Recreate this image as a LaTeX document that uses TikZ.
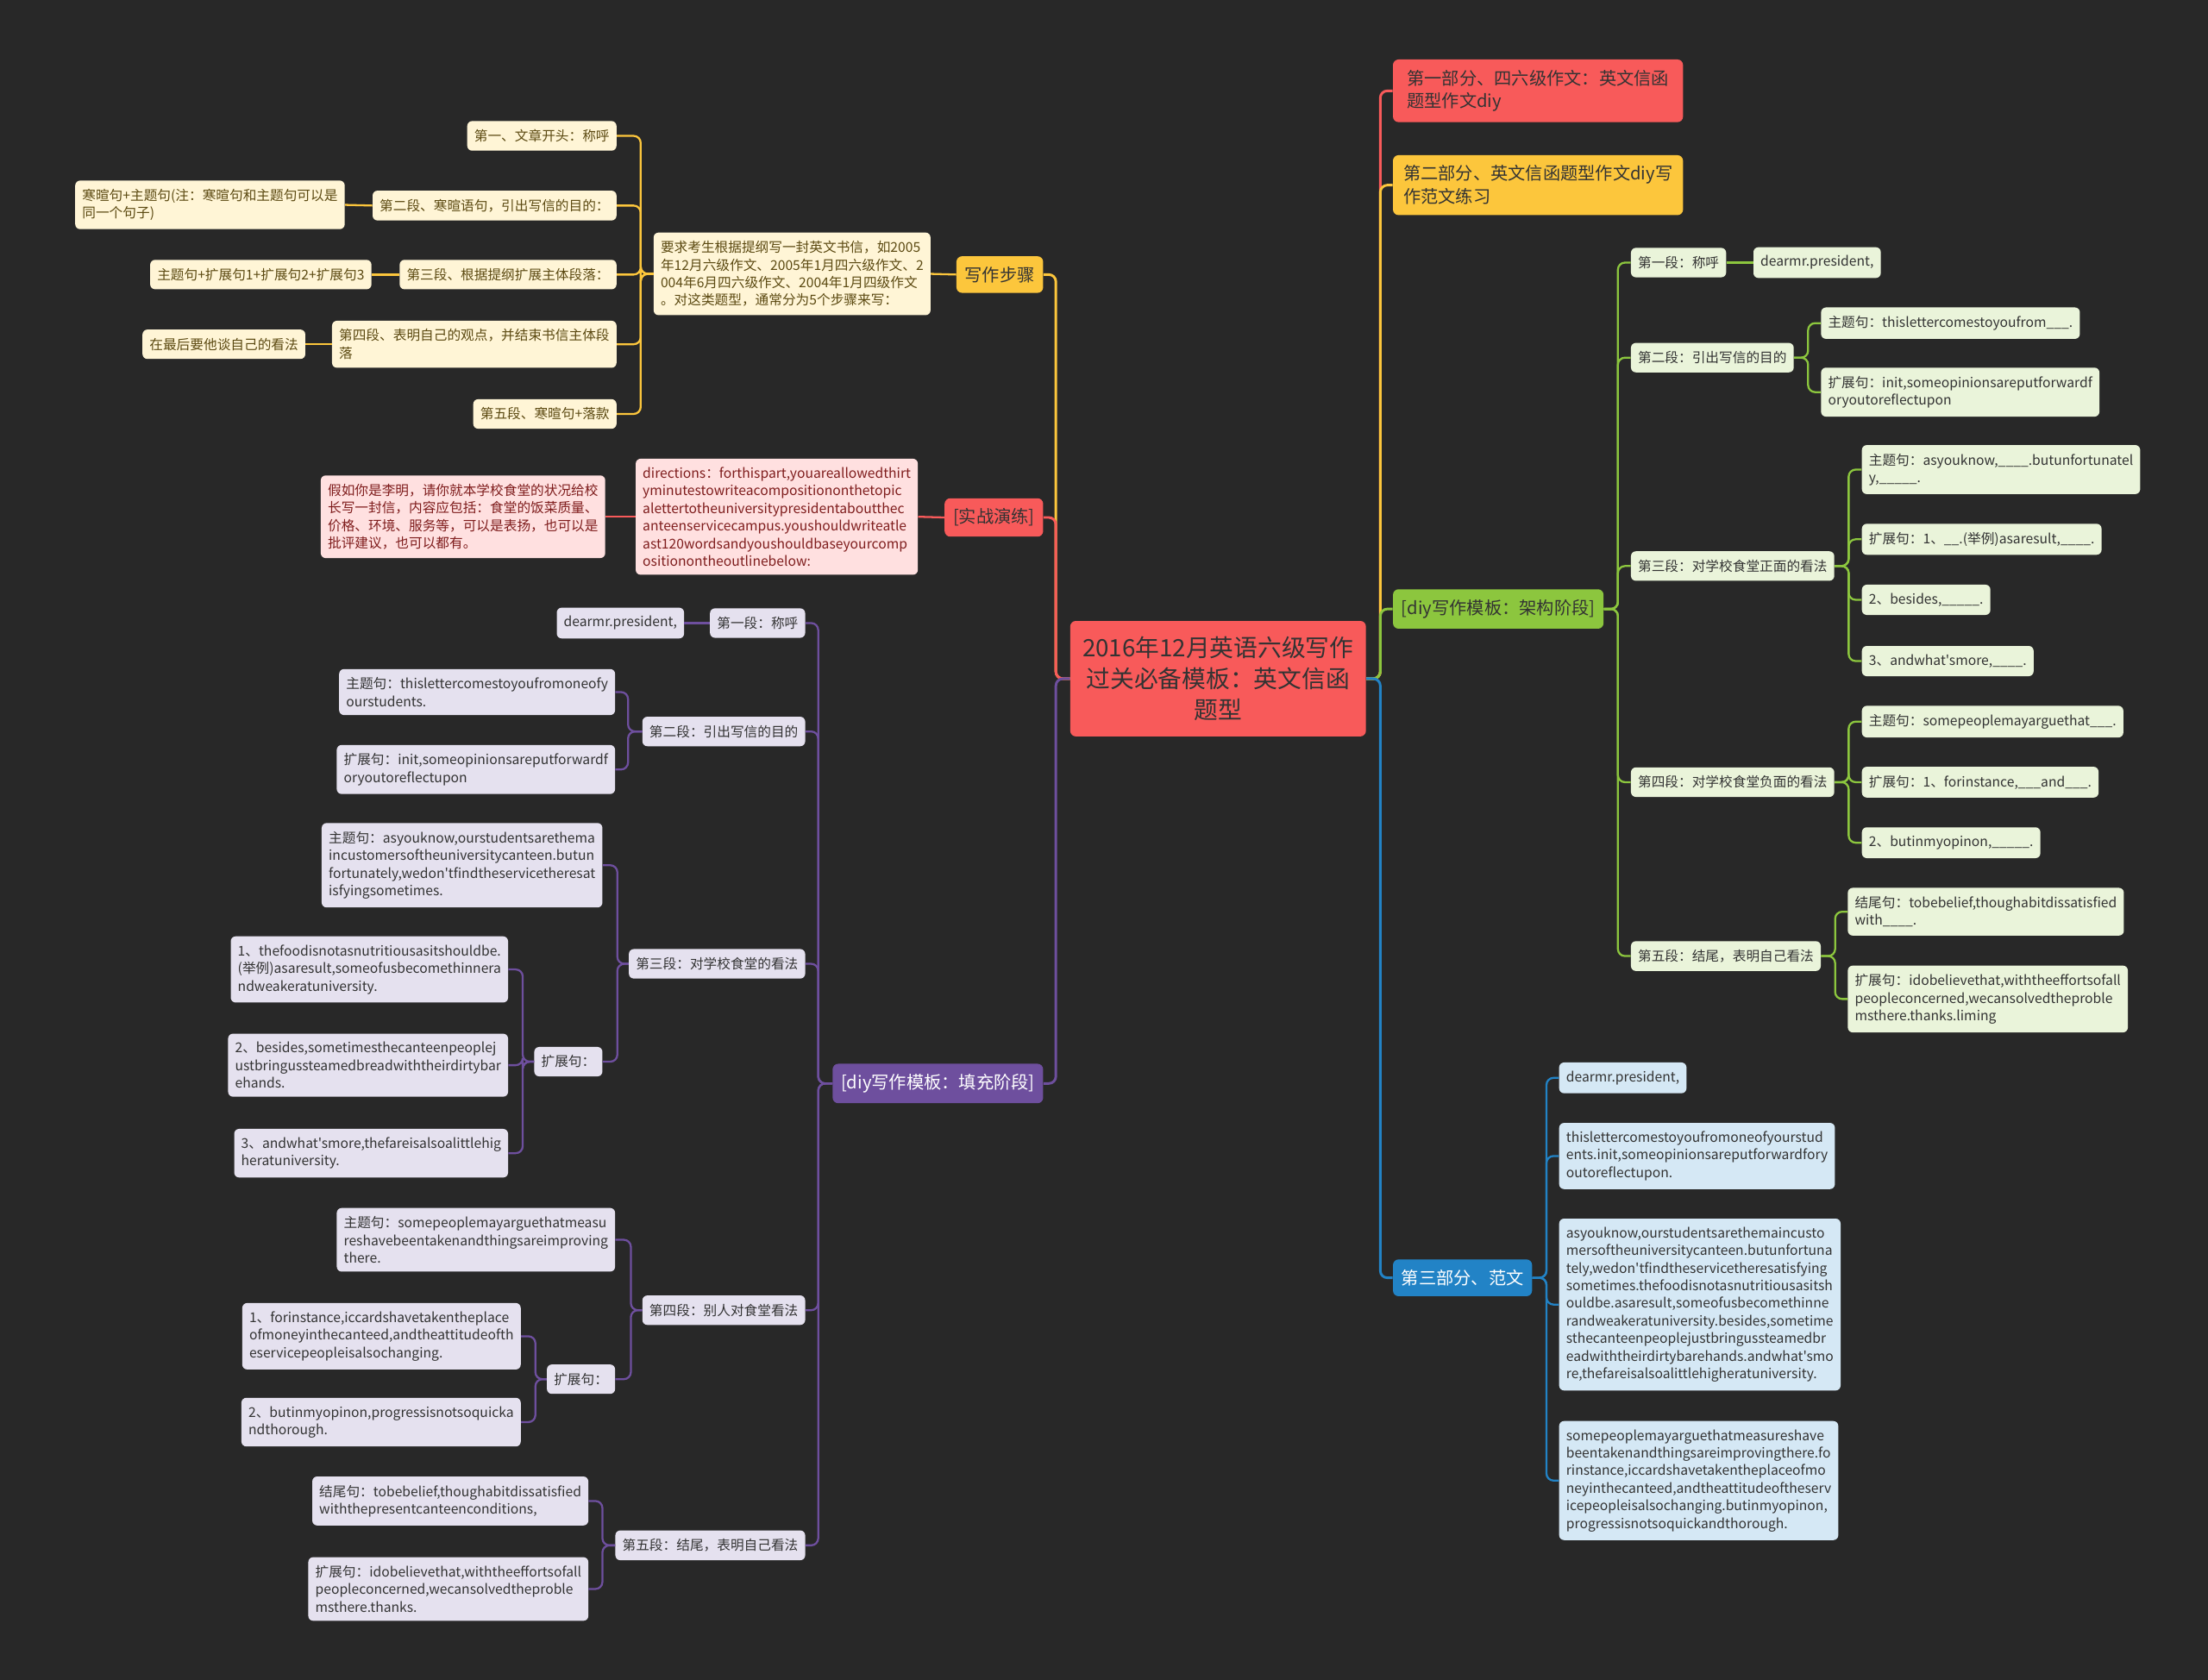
\documentclass[tikz,border=0pt]{standalone}
\usepackage{fontspec}
\setmainfont{Noto Sans CJK SC}[Ligatures=TeXOff]
\usepackage{tikz}
\definecolor{bgc}{HTML}{282828}
\definecolor{mred}{HTML}{F85A5A}
\definecolor{myel}{HTML}{FCC63C}
\definecolor{mgrn}{HTML}{8CC63E}
\definecolor{mblu}{HTML}{2283C6}
\definecolor{mpur}{HTML}{6E4F9E}
\definecolor{lyel}{HTML}{FFF5D6}
\definecolor{lred}{HTML}{FFE0E0}
\definecolor{lgrn}{HTML}{EAF4DA}
\definecolor{lblu}{HTML}{D5E8F5}
\definecolor{lpur}{HTML}{E5E1EF}
\definecolor{tdark}{HTML}{333333}
\definecolor{tyel}{HTML}{5C4A12}
\definecolor{tred}{HTML}{7F1D1D}

\begin{document}
\begin{tikzpicture}[x=1pt,y=-1pt,
  topic/.style={rounded corners=4pt,inner xsep=6pt,inner ysep=7.3pt,align=left,font=\fontsize{12.4}{16.5}\selectfont,text=tdark},
  leaf/.style={rounded corners=3.5pt,inner xsep=5pt,inner ysep=6pt,align=left,font=\fontsize{9.6}{12.5}\selectfont,text=tdark},
  yleaf/.style={leaf,fill=lyel,text=tyel},
  rleaf/.style={leaf,fill=lred,text=tred},
  pleaf/.style={leaf,fill=lpur},
  gleaf/.style={leaf,fill=lgrn},
  bleaf/.style={leaf,fill=lblu},
  mlink/.style={draw=#1,line width=1.8pt,rounded corners=5pt},
  slink/.style={draw=#1,line width=1.4pt,rounded corners=5pt}]
  \fill[bgc] (0,0) rectangle (1568,1193);
  \useasboundingbox (0,0) rectangle (1568,1193);

  \node[rounded corners=4pt,fill=mred,text=tdark,align=center,minimum width=210pt,minimum height=82pt,font=\fontsize{17}{22}\selectfont] (root) at (865,482) {2016年12月英语六级写作\\过关必备模板：英文信函\\题型};

  % right side
  \node[topic,fill=mred,anchor=west,minimum width=206pt] (r1) at (989,64.5) {第一部分、四六级作文：英文信函\\题型作文diy};
  \node[topic,fill=myel,anchor=west,minimum width=206pt] (r2) at (989,131.5) {第二部分、英文信函题型作文diy写\\作范文练习};
  \node[topic,fill=mgrn,anchor=west] (r3) at (989,432.5) {[diy写作模板：架构阶段]};
  \node[topic,fill=mblu,text=white,anchor=west] (r4) at (989,907.5) {第三部分、范文};
  \draw[mlink=mred] (root.east) -- ++(10,0) |- (r1.west);
  \draw[mlink=myel] (root.east) -- ++(10,0) |- (r2.west);
  \draw[mlink=mgrn] (root.east) -- ++(10,0) |- (r3.west);
  \draw[mlink=mblu] (root.east) -- ++(10,0) |- (r4.west);

  \node[gleaf,anchor=west] (g1) at (1158,186.5) {第一段：称呼};
  \node[gleaf,anchor=west] (g1a) at (1245,186.5) {dearmr.president,};
  \node[gleaf,anchor=west] (g2) at (1158,254) {第二段：引出写信的目的};
  \node[gleaf,anchor=west] (g2a) at (1293,229.5) {主题句：thislettercomestoyoufrom\_\_\_.};
  \node[gleaf,anchor=west] (g2b) at (1293,278.5) {扩展句：init,someopinionsareputforwardf\\oryoutoreflectupon};
  \node[gleaf,anchor=west] (g3) at (1158,402) {第三段：对学校食堂正面的看法};
  \node[gleaf,anchor=west] (g3a) at (1322,333.5) {主题句：asyouknow,\_\_\_\_.butunfortunatel\\y,\_\_\_\_\_.};
  \node[gleaf,anchor=west] (g3b) at (1322,383) {扩展句：1、\_\_.(举例)asaresult,\_\_\_\_.};
  \node[gleaf,anchor=west] (g3c) at (1322,426) {2、besides,\_\_\_\_\_.};
  \node[gleaf,anchor=west] (g3d) at (1322,469.5) {3、andwhat'smore,\_\_\_\_.};
  \node[gleaf,anchor=west] (g4) at (1158,555.5) {第四段：对学校食堂负面的看法};
  \node[gleaf,anchor=west] (g4a) at (1322,512.5) {主题句：somepeoplemayarguethat\_\_\_.};
  \node[gleaf,anchor=west] (g4b) at (1322,555.5) {扩展句：1、forinstance,\_\_\_and\_\_\_.};
  \node[gleaf,anchor=west] (g4c) at (1322,598.5) {2、butinmyopinon,\_\_\_\_\_.};
  \node[gleaf,anchor=west] (g5) at (1158,679) {第五段：结尾，表明自己看法};
  \node[gleaf,anchor=west] (g5a) at (1312,647.5) {结尾句：tobebelief,thoughabitdissatisfied\\with\_\_\_\_.};
  \node[gleaf,anchor=west] (g5b) at (1312,709.5) {扩展句：idobelievethat,withtheeffortsofall\\peopleconcerned,wecansolvedtheproble\\msthere.thanks.liming};
  \foreach \c in {g1,g2,g3,g4,g5}
    \draw[slink=mgrn] (r3.east) -- ++(10,0) |- (\c.west);
  \draw[slink=mgrn] (g1.east) -- (g1a.west);
  \foreach \c in {g2a,g2b}
    \draw[slink=mgrn] (g2.east) -- ++(10,0) |- (\c.west);
  \foreach \c in {g3a,g3b,g3c,g3d}
    \draw[slink=mgrn] (g3.east) -- ++(10,0) |- (\c.west);
  \foreach \c in {g4a,g4b,g4c}
    \draw[slink=mgrn] (g4.east) -- ++(10,0) |- (\c.west);
  \foreach \c in {g5a,g5b}
    \draw[slink=mgrn] (g5.east) -- ++(10,0) |- (\c.west);

  \node[bleaf,anchor=west] (b1) at (1107,765.5) {dearmr.president,};
  \node[bleaf,anchor=west] (b2) at (1107,821) {thislettercomestoyoufromoneofyourstud\\ents.init,someopinionsareputforwardfory\\outoreflectupon.};
  \node[bleaf,anchor=west] (b3) at (1107,926.5) {asyouknow,ourstudentsarethemaincusto\\mersoftheuniversitycanteen.butunfortuna\\tely,wedon'tfindtheservicetheresatisfying\\sometimes.thefoodisnotasnutritiousasitsh\\ouldbe.asaresult,someofusbecomethinne\\randweakeratuniversity.besides,sometime\\sthecanteenpeoplejustbringussteamedbr\\eadwiththeirdirtybarehands.andwhat'smo\\re,thefareisalsoalittlehigheratuniversity.};
  \node[bleaf,anchor=west] (b4) at (1107,1051.5) {somepeoplemayarguethatmeasureshave\\beentakenandthingsareimprovingthere.fo\\rinstance,iccardshavetakentheplaceofmo\\neyinthecanteed,andtheattitudeoftheserv\\icepeopleisalsochanging.butinmyopinon,\\progressisnotsoquickandthorough.};
  \foreach \c in {b1,b2,b3,b4}
    \draw[slink=mblu] (r4.east) -- ++(10,0) |- (\c.west);

  % left side
  \node[topic,fill=myel,anchor=east] (l1) at (741,195) {写作步骤};
  \node[topic,fill=mred,anchor=east] (l2) at (741,367.5) {[实战演练]};
  \node[topic,fill=mpur,text=white,anchor=east] (l3) at (741,769.5) {[diy写作模板：填充阶段]};
  \draw[mlink=myel] (root.west) -- ++(-10,0) |- (l1.east);
  \draw[mlink=mred] (root.west) -- ++(-10,0) |- (l2.east);
  \draw[mlink=mpur] (root.west) -- ++(-10,0) |- (l3.east);

  \node[yleaf,anchor=east] (ys) at (661,194.5) {要求考生根据提纲写一封英文书信，如2005\\年12月六级作文、2005年1月四六级作文、2\\004年6月四六级作文、2004年1月四级作文\\。对这类题型，通常分为5个步骤来写：};
  \node[yleaf,anchor=east] (ys1) at (438,96.5) {第一、文章开头：称呼};
  \node[yleaf,anchor=east] (ys2) at (438,146) {第二段、寒暄语句，引出写信的目的：};
  \node[yleaf,anchor=east] (ys3) at (438,195) {第三段、根据提纲扩展主体段落：};
  \node[yleaf,anchor=east] (ys4) at (438,244.5) {第四段、表明自己的观点，并结束书信主体段\\落};
  \node[yleaf,anchor=east] (ys5) at (438,294) {第五段、寒暄句+落款};
  \node[yleaf,anchor=east] (ys2a) at (245,145.5) {寒暄句+主题句(注：寒暄句和主题句可以是\\同一个句子)};
  \node[yleaf,anchor=east] (ys3a) at (264,195) {主题句+扩展句1+扩展句2+扩展句3};
  \node[yleaf,anchor=east] (ys4a) at (217,244.5) {在最后要他谈自己的看法};
  \draw[slink=myel] (l1.west) -- (ys.east);
  \foreach \c in {ys1,ys2,ys3,ys4,ys5}
    \draw[slink=myel] (ys.west) -- ++(-9,0) |- (\c.east);
  \draw[slink=myel] (ys2.west) -- (ys2a.east);
  \draw[slink=myel] (ys3.west) -- (ys3a.east);
  \draw[slink=myel] (ys4.west) -- (ys4a.east);

  \node[rleaf,anchor=east] (sz) at (652,367) {directions：forthispart,youareallowedthirt\\yminutestowriteacompositiononthetopic\\alettertotheuniversitypresidentaboutthec\\anteenservicecampus.youshouldwriteatle\\ast120wordsandyoushouldbaseyourcomp\\ositionontheoutlinebelow:};
  \node[rleaf,anchor=east] (sza) at (430,367) {假如你是李明，请你就本学校食堂的状况给校\\长写一封信，内容应包括：食堂的饭菜质量、\\价格、环境、服务等，可以是表扬，也可以是\\批评建议，也可以都有。};
  \draw[slink=mred] (l2.west) -- (sz.east);
  \draw[slink=mred] (sz.west) -- (sza.east);

  \node[pleaf,anchor=east] (p1) at (572,442.5) {第一段：称呼};
  \node[pleaf,anchor=east] (p1a) at (486,442.5) {dearmr.president,};
  \node[pleaf,anchor=east] (p2) at (572,519.5) {第二段：引出写信的目的};
  \node[pleaf,anchor=east] (p2a) at (437,491.5) {主题句：thislettercomestoyoufromoneofy\\ourstudents.};
  \node[pleaf,anchor=east] (p2b) at (437,546.5) {扩展句：init,someopinionsareputforwardf\\oryoutoreflectupon};
  \node[pleaf,anchor=east] (p3) at (572,684.5) {第三段：对学校食堂的看法};
  \node[pleaf,anchor=east] (p3a) at (428,614.5) {主题句：asyouknow,ourstudentsarethema\\incustomersoftheuniversitycanteen.butun\\fortunately,wedon'tfindtheservicetheresat\\isfyingsometimes.};
  \node[pleaf,anchor=east] (p3b) at (428,754) {扩展句：};
  \node[pleaf,anchor=east] (p3b1) at (361,688.5) {1、thefoodisnotasnutritiousasitshouldbe.\\(举例)asaresult,someofusbecomethinnera\\ndweakeratuniversity.};
  \node[pleaf,anchor=east] (p3b2) at (361,756.5) {2、besides,sometimesthecanteenpeoplej\\ustbringussteamedbreadwiththeirdirtybar\\ehands.};
  \node[pleaf,anchor=east] (p3b3) at (361,819) {3、andwhat'smore,thefareisalsoalittlehig\\heratuniversity.};
  \node[pleaf,anchor=east] (p4) at (572,930.5) {第四段：别人对食堂看法};
  \node[pleaf,anchor=east] (p4a) at (437,880.5) {主题句：somepeoplemayarguethatmeasu\\reshavebeentakenandthingsareimproving\\there.};
  \node[pleaf,anchor=east] (p4b) at (437,979.5) {扩展句：};
  \node[pleaf,anchor=east] (p4b1) at (370,949) {1、forinstance,iccardshavetakentheplace\\ofmoneyinthecanteed,andtheattitudeofth\\eservicepeopleisalsochanging.};
  \node[pleaf,anchor=east] (p4b2) at (370,1010) {2、butinmyopinon,progressisnotsoquicka\\ndthorough.};
  \node[pleaf,anchor=east] (p5) at (572,1097.5) {第五段：结尾，表明自己看法};
  \node[pleaf,anchor=east] (p5a) at (418,1066) {结尾句：tobebelief,thoughabitdissatisfied\\withthepresentcanteenconditions,};
  \node[pleaf,anchor=east] (p5b) at (418,1128.5) {扩展句：idobelievethat,withtheeffortsofall\\peopleconcerned,wecansolvedtheproble\\msthere.thanks.};
  \foreach \c in {p1,p2,p3,p4,p5}
    \draw[slink=mpur] (l3.west) -- ++(-10,0) |- (\c.east);
  \draw[slink=mpur] (p1.west) -- (p1a.east);
  \foreach \c in {p2a,p2b}
    \draw[slink=mpur] (p2.west) -- ++(-10,0) |- (\c.east);
  \foreach \c in {p3a,p3b}
    \draw[slink=mpur] (p3.west) -- ++(-8,0) |- (\c.east);
  \foreach \c in {p3b1,p3b2,p3b3}
    \draw[slink=mpur] (p3b.west) -- ++(-8,0) |- (\c.east);
  \foreach \c in {p4a,p4b}
    \draw[slink=mpur] (p4.west) -- ++(-8,0) |- (\c.east);
  \foreach \c in {p4b1,p4b2}
    \draw[slink=mpur] (p4b.west) -- ++(-8,0) |- (\c.east);
  \foreach \c in {p5a,p5b}
    \draw[slink=mpur] (p5.west) -- ++(-9,0) |- (\c.east);
\end{tikzpicture}
\end{document}
